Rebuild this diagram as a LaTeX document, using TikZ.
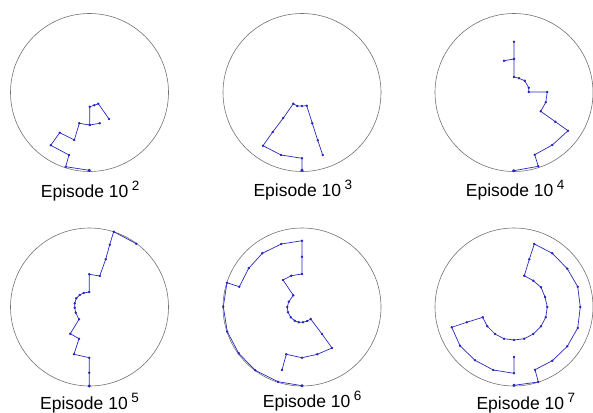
\documentclass[tikz,border=0pt]{standalone}
\usepackage{fontspec}
\setmainfont{Liberation Sans}
\usetikzlibrary{arrows.meta}

\definecolor{chainblue}{RGB}{40,40,190}
\newcommand{\episodelabel}[1]{Episode 10\hspace{3.5pt}\raisebox{7pt}{\fontsize{13.5}{14}\selectfont #1}}

\begin{document}
\begin{tikzpicture}[x=1pt, y=-1pt, >=Latex]

\tikzset{
  arena/.style={draw=black!55, line width=0.6pt},
  chain/.style={
    draw=chainblue, line width=0.7pt, line join=round,
    mark=*, mark size=0.9pt,
    mark options={fill=chainblue, draw=chainblue}
  },
  anchorpt/.style={fill=chainblue},
  caption/.style={anchor=base west, inner sep=0pt,
    font=\fontsize{17.5}{20}\selectfont}
}

\useasboundingbox (0,0) rectangle (593,412);

% ==========================
% Arenas (one circle per episode)
% ==========================
\foreach \cx/\cy in {89.5/92.5, 302/92.5, 514/92.5, 89.5/307, 302/307, 514/307}
  \draw[arena] (\cx,\cy) circle[radius=79pt];

% ==========================
% Top row: episodes 10^2, 10^3, 10^4
% ==========================
\draw[chain] plot coordinates {(89.3,170.3) (65.7,166.7) (69,155) (50.7,145.3)
  (59.7,132.7) (74.3,140) (79.3,123.3) (89.7,125) (99.7,123.3) (89.7,125)
  (89.7,106.7) (94.3,105.3) (98.3,103.7) (109,119)};

\draw[chain] plot coordinates {(302,170.3) (302,158.3) (281,155) (263,145.7)
  (272.7,132) (283.3,118) (293.3,103.7) (297.3,106) (302,106) (306.7,105.7)
  (312.3,123.3) (317.7,140.3) (322.7,155)};

\draw[chain] plot coordinates {(513.7,170.7) (538.3,166.3) (534.7,154.7)
  (552.3,145) (568,130.7) (555.3,121.7) (540.7,111.3) (545.7,102.3)
  (547.3,92) (528.7,92) (528.7,87.7) (524.7,80.7) (519,78.3) (514,77)
  (514,59) (504,60.7) (514,59) (514,41.7)};

% ==========================
% Bottom row: episodes 10^5, 10^6, 10^7
% ==========================
\draw[chain] plot coordinates {(89.3,386) (89.3,372.7) (89.3,357.7) (74,354.3)
  (79,338.7) (70.3,333.7) (79,319.3) (75.7,312.7) (74.7,307.7) (74.7,303.3)
  (76.3,298.3) (79.7,295) (83.7,293) (89.3,292) (89.3,274.3) (99.7,276)
  (105.7,259.3) (109.7,244.7) (113.7,231.7) (136.3,243.7)};

\draw[chain] plot coordinates {(302,385.7) (278,381.7) (255.3,370.3)
  (238.7,353.3) (227.3,331.7) (223.3,306.7) (227,282.7) (239.3,286.7)
  (248.7,268.3) (262.3,253.3) (281.3,244) (302,240.7) (302,256.7) (302,274)
  (291.3,275.7) (283,280) (293.3,295.3) (288.7,301.7) (287.3,307) (288,312.3)
  (290.7,317.3) (294.7,320.7) (298.7,322.3) (303,322.3) (307.3,321)
  (310.7,319) (322,334) (332,348) (317.3,354.3) (302,357.7) (286.3,354.3)
  (282,370)};

\draw[chain] plot coordinates {(514,385.3) (538.3,382) (535,369.7)
  (552.3,360.7) (567.3,346.3) (577.7,328) (580.3,307) (577.7,286.7)
  (567.3,268.7) (552.3,253.3) (534.3,244) (529.3,259.3) (524.3,275.7)
  (533.3,280.7) (541,287.3) (545,297) (547.3,307) (545.7,317.3) (541,326.3)
  (533.3,334) (524.3,338.7) (514,340) (504,338.7) (495,334) (487.3,326.3)
  (482.7,317.3) (466.7,322.3) (451.7,327.3) (460,345.7) (475,360.3)
  (493.3,370) (514,373.3) (514,357)};

% fixed base joints
\foreach \bx/\by in {89.3/170.3, 302/170.3, 513.7/170.7, 89.3/386, 302/385.7, 514/385.3}
  \fill[anchorpt] (\bx,\by) circle[radius=1.6pt];

% ==========================
% Captions
% ==========================
\node[caption] (cap2) at (40.7,197)  {\episodelabel{2}};
\node[caption] (cap3) at (253.3,196.7) {\episodelabel{3}};
\node[caption] (cap4) at (465.7,196.7) {\episodelabel{4}};
\node[caption] (cap5) at (40,409)    {\episodelabel{5}};
\node[caption] (cap6) at (262.7,407.3) {\episodelabel{6}};
\node[caption] (cap7) at (476.3,409.3) {\episodelabel{7}};

\end{tikzpicture}
\end{document}
